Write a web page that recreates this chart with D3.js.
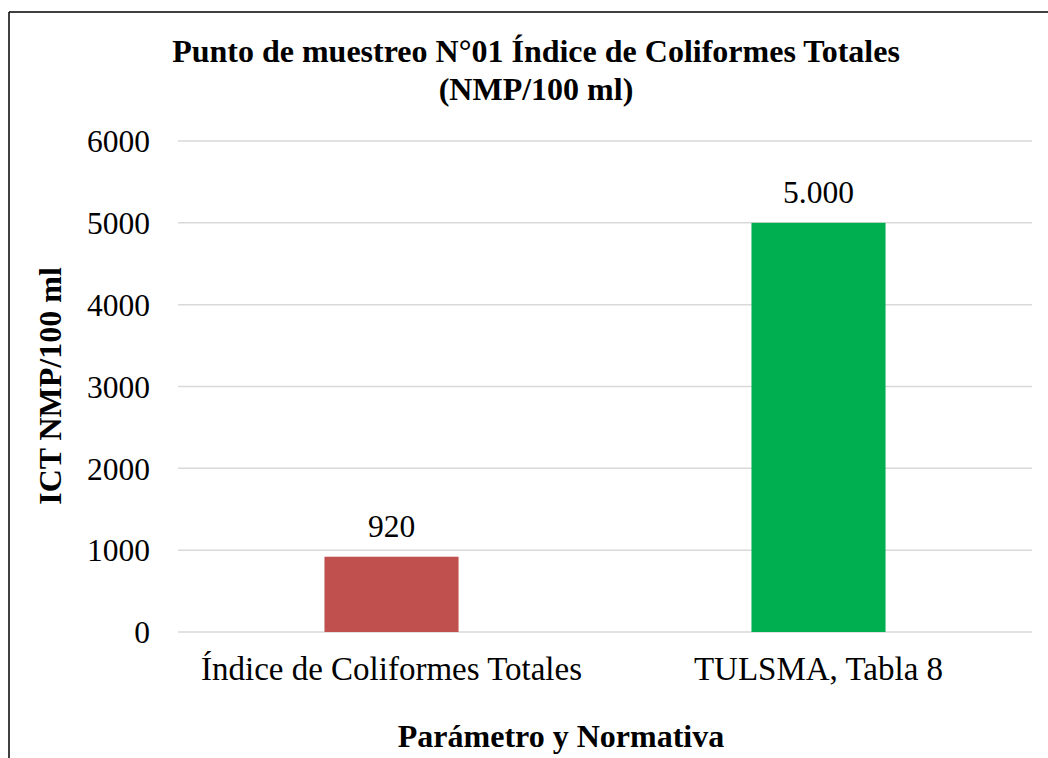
<!DOCTYPE html>
<html>
<head>
<meta charset="utf-8">
<script src="https://cdn.jsdelivr.net/npm/d3@7"></script>
<style>
  body { margin: 0; background: #fff; }
  svg text { font-family: "Liberation Serif", "Times New Roman", serif !important; fill: #000; }
</style>
</head>
<body>
<svg id="chart" width="1048" height="758"></svg>
<script>
/* ── Data ─────────────────────────────────────────── */
const categories = ["Índice de Coliformes Totales", "TULSMA, Tabla 8"];
const values     = [920, 5000];
const valueLabels = ["920", "5.000"];
const barColors  = ["#C0504D", "#00B050"];
const yTicks     = [0, 1000, 2000, 3000, 4000, 5000, 6000];

/* ── Layout ───────────────────────────────────────── */
const svg = d3.select("#chart");
const plot = { left: 178, right: 1032, top: 141, bottom: 632 };

/* chart frame (only left + top visible) */
svg.append("line").attr("x1", 9).attr("x2", 1048).attr("y1", 12).attr("y2", 12)
  .attr("stroke", "#000").attr("stroke-width", 1.5);
svg.append("line").attr("x1", 9).attr("x2", 9).attr("y1", 12).attr("y2", 758)
  .attr("stroke", "#000").attr("stroke-width", 1.5);

const x = d3.scaleBand().domain(categories)
  .range([plot.left, plot.right]).paddingInner(0.686).paddingOuter(0.343);
const y = d3.scaleLinear().domain([0, 6000]).range([plot.bottom, plot.top]);

/* gridlines */
svg.append("g").selectAll("line").data(yTicks).join("line")
  .attr("x1", plot.left).attr("x2", plot.right)
  .attr("y1", d => y(d)).attr("y2", d => y(d))
  .attr("stroke", "#d9d9d9").attr("stroke-width", 1.5);

/* y axis labels */
const yAxis = svg.append("g")
  .attr("transform", `translate(${plot.left - 28},0)`)
  .call(d3.axisLeft(y).tickValues(yTicks).tickSize(0).tickPadding(0).tickFormat(d3.format("d")));
yAxis.attr("font-family", null).attr("font-size", null);
yAxis.select(".domain").remove();
yAxis.selectAll("text").style("font-size", "31.5px").attr("dy", "0.34em").attr("fill", "#000");

/* x axis labels */
const xAxis = svg.append("g")
  .attr("transform", `translate(0,${plot.bottom})`)
  .call(d3.axisBottom(x).tickSize(0).tickPadding(0));
xAxis.attr("font-family", null).attr("font-size", null);
xAxis.select(".domain").remove();
xAxis.selectAll("text").style("font-size", "33px").attr("dy", null).attr("y", 48).attr("fill", "#000");

/* bars */
svg.append("g").selectAll("rect").data(values).join("rect")
  .attr("x", (d, i) => x(categories[i]))
  .attr("width", x.bandwidth())
  .attr("y", d => y(d))
  .attr("height", d => y(0) - y(d))
  .attr("fill", (d, i) => barColors[i]);

/* value labels */
svg.append("g").selectAll("text").data(values).join("text")
  .attr("x", (d, i) => x(categories[i]) + x.bandwidth() / 2)
  .attr("y", d => y(d) - 20)
  .attr("text-anchor", "middle")
  .style("font-size", "31.5px")
  .text((d, i) => valueLabels[i]);

/* title */
const title = svg.append("text").attr("text-anchor", "middle")
  .style("font-size", "32px").style("font-weight", "bold");
title.append("tspan").attr("x", 536).attr("y", 62)
  .text("Punto de muestreo N°01 Índice de Coliformes Totales");
title.append("tspan").attr("x", 536).attr("y", 100).text("(NMP/100 ml)");

/* axis titles */
svg.append("text")
  .attr("transform", "translate(61,386) rotate(-90)")
  .attr("text-anchor", "middle")
  .style("font-size", "32px").style("font-weight", "bold")
  .text("ICT NMP/100 ml");

svg.append("text")
  .attr("x", 561).attr("y", 747)
  .attr("text-anchor", "middle")
  .style("font-size", "32px").style("font-weight", "bold")
  .text("Parámetro y Normativa");
</script>
</body>
</html>
